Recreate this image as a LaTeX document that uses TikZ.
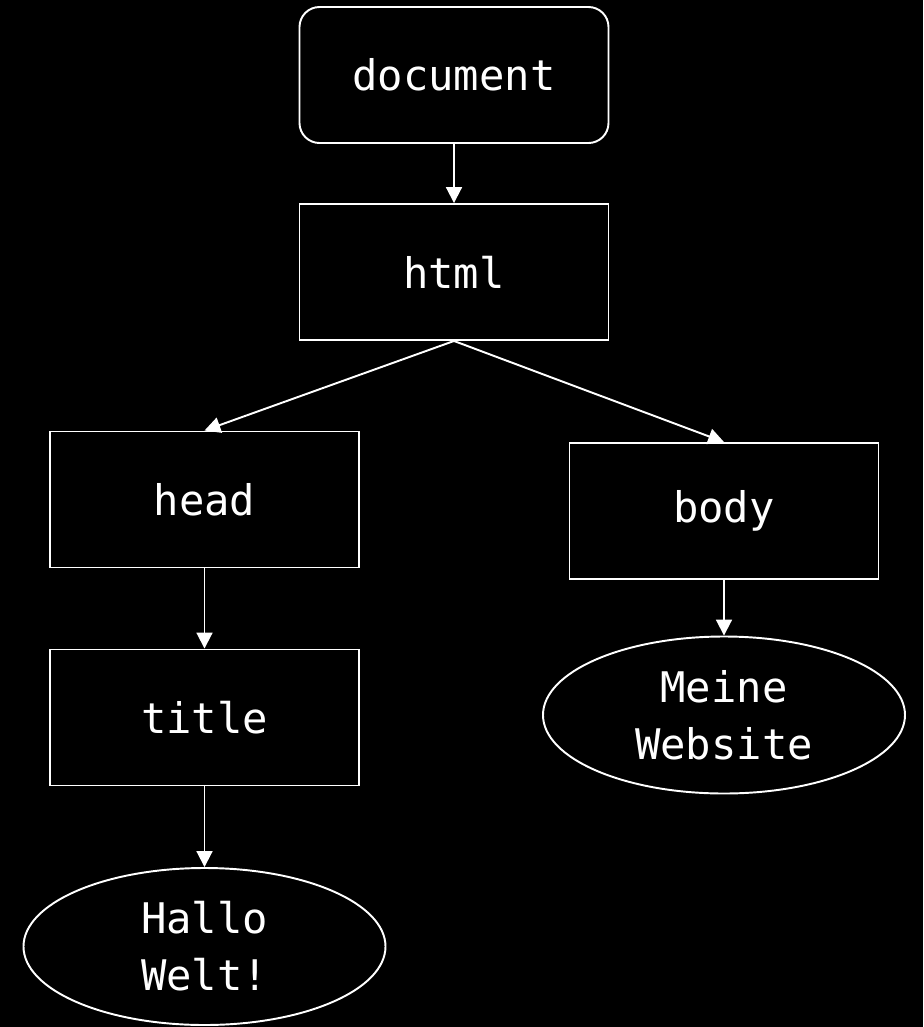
\documentclass[tikz,border=0pt]{standalone}
\usepackage{fontspec}
\setmonofont{DejaVu Sans Mono}
\usetikzlibrary{shapes.geometric,arrows.meta}
\tikzset{
  domnode/.style={draw=white, line width=1.1pt, text=white, font=\ttfamily\fontsize{24}{32.5}\selectfont,
    minimum width=6.18cm, minimum height=2.72cm, inner sep=0pt},
  rootnode/.style={domnode, rounded corners=0.4cm},
  textnode/.style={domnode, ellipse, align=center, minimum width=7.24cm, minimum height=3.14cm},
  link/.style={draw=white, line width=1.1pt, -{Triangle[length=9pt,width=9pt]}}
}
\begin{document}
\begin{tikzpicture}
      \fill[black] (0,0) rectangle (18.46,-20.54);
      \draw
        (9.08,-1.5) node[rootnode] (document){document}
        (9.08,-5.44) node[domnode] (html){html}
        (4.09,-9.99) node[domnode] (head){head}
        (14.48,-10.22) node[domnode] (body){body}
        (4.09,-14.35) node[domnode] (title){title}
        (14.48,-14.3) node[textnode] (website){Meine\\Website}
        (4.09,-18.93) node[textnode] (hallo){Hallo\\Welt!};
      \begin{scope}[link]
        \draw (document) to (html);
        \draw (html.south) to (head.north);
        \draw (html.south) to (body.north);
        \draw (head) to (title);
        \draw (title) to (hallo);
        \draw (body) to (website);
      \end{scope}
    \end{tikzpicture}
\end{document}
